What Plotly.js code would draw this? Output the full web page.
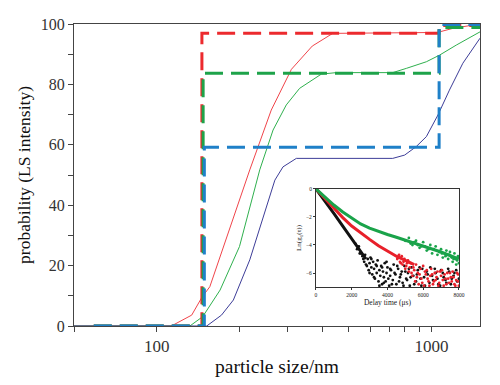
<!DOCTYPE html>
<html><head><meta charset="utf-8">
<script src="https://cdn.plot.ly/plotly-3.0.1.min.js"></script>
<style>html,body{margin:0;padding:0;background:#fff}#c{width:500px;height:385px}</style>
</head><body><div id="c"></div>
<script>
// Main chart: cumulative size distributions (particle size in nm, probability %)
const redSolidX = [50,113,134,146,156,218,261,309,368,437,1050,1200,1500];
const redSolidY = [0,0,3.6,9.5,13.0,51.7,71.5,85.0,92.7,96.9,97.2,98.6,100];
const greenSolidX = [50,132,147,170,200,237,265,296,331,397,450,722,809,957,1069,1229,1500];
const greenSolidY = [0,0,3.1,11.9,26.3,51.7,64.9,73.2,78.7,83.4,83.9,83.9,85.3,87.5,89.7,93.0,97.4];
const blueSolidX = [50,152,172,190,218,269,288,322,722,798,879,957,1055,1161,1299,1500];
const blueSolidY = [0,0,3.6,8.6,21.9,48.3,52.7,55.5,55.5,56.6,59.4,62.7,69.9,78.1,87.0,95.3];
const redDashX = [59,146,146,1065,1065,1500];
const redDashY = [0,0,96.9,96.9,99.5,99.5];
const greenDashX = [59,147.5,147.5,1065,1065,1500];
const greenDashY = [0,0,83.7,83.7,98.8,98.8];
const blueDashX = [59,149,149,1065,1065,1500];
const blueDashY = [0,0,59.2,59.2,99.8,99.8];
const xTickVals = [100,1000];
const xTickText = ['100','1000'];
const xMinorTickVals = [50,200,300,400,500,600,700,800,900];
const yTickVals = [0,20,40,60,80,100];

// Inset: Ln(g1(tau)) vs delay time (us)
const greenTrendX = [0,500,1000,1500,2000,2500,3000,3500,4000,4500,5000,5500,6000,6500,7000,7500,8000];
const greenTrendY = [0,-0.6,-1.15,-1.65,-2.1,-2.5,-2.8,-3.05,-3.25,-3.45,-3.65,-3.85,-4.05,-4.25,-4.5,-4.75,-5.0];
const redTrendX = [0,500,1000,1500,2000,2500,3000,3500,4000,4500,5000,5500];
const redTrendY = [0,-0.7,-1.4,-2.05,-2.65,-3.15,-3.6,-4.05,-4.45,-4.8,-5.1,-5.4];
const blackTrendX = [0,500,1000,1500,2000,2500,2800];
const blackTrendY = [0,-0.85,-1.75,-2.65,-3.55,-4.45,-5.0];
const blackNoiseX = [2200,2300,2400,2450,2600,2700,2750,2850,2900,2950,3000,3050,3100,3150,3200,3250,3300,3350,3400,3450,3500,3550,3600,3650,3700,3750,3800,3850,3900,3950,4000,4100,4150,4200,4300,4350,4450,4500,4600,4700,4800,4850,4950,5050,5150,5250,5350,5450,5600,5700,5850,5950,6100,6250,6400,6550,6700,6850,7000,7150,7300,7450,7600,7750,7900,
  2500,2650,2800,3000,3100,3250,3400,3550,3700,3800,3950,4050,4150,4250,4400,4550,4650,4750,4900,5000,5100,5200,5300,5500,5650,5800,5900,6050,6200,6350,6500,6650,6800,6950,7100,7250,7400,7550,7700,7850,8000];
const blackNoiseY = [-3.9,-4.3,-4.1,-4.6,-4.8,-5.2,-4.7,-5.5,-5.0,-5.8,-5.3,-4.9,-5.6,-6.1,-5.2,-5.7,-6.4,-5.4,-6.0,-5.1,-6.6,-5.8,-6.2,-5.5,-6.8,-5.9,-6.3,-5.3,-6.6,-6.0,-5.6,-6.9,-6.2,-5.8,-6.5,-5.4,-6.1,-6.8,-5.7,-6.3,-5.9,-6.7,-5.5,-6.4,-6.0,-6.9,-5.6,-6.2,-6.6,-5.8,-6.4,-5.7,-6.9,-6.1,-5.6,-6.5,-6.0,-6.8,-5.8,-6.3,-6.7,-5.9,-6.4,-6.0,-6.6,
  -4.6,-5.0,-5.4,-6.0,-5.0,-6.3,-5.5,-6.9,-5.6,-6.7,-5.2,-6.4,-5.7,-6.8,-6.0,-5.5,-6.6,-6.1,-6.9,-5.9,-6.5,-5.7,-6.3,-6.8,-6.1,-5.6,-6.9,-6.3,-5.9,-6.7,-6.2,-5.7,-6.4,-6.9,-6.0,-6.5,-5.7,-6.8,-6.2,-5.8,-6.4];
const redNoiseX = [4600,4700,4800,4850,4950,5050,5150,5200,5300,5400,5450,5550,5600,5700,5750,5850,5900,6000,6050,6150,6200,6300,6400,6450,6550,6650,6700,6800,6900,7000,7050,7150,7250,7350,7450,7550,7650,7750,7850,7950,8000,
  4550,4650,4750,4900,5000,5100,5250,5350,5500,5650,5800,5950,6100,6250,6350,6500,6600,6750,6850,6950,7100,7200,7300,7400,7500,7600,7700,7800,7900,7950];
const redNoiseY = [-4.9,-5.2,-4.8,-5.4,-5.0,-5.5,-5.1,-5.9,-5.3,-6.2,-5.6,-6.6,-5.4,-6.0,-6.8,-5.7,-6.4,-5.5,-6.9,-6.1,-5.8,-6.6,-6.2,-5.7,-6.8,-6.0,-6.5,-5.9,-6.7,-6.2,-5.8,-6.9,-6.4,-6.0,-6.7,-6.3,-5.9,-6.8,-6.5,-6.1,-6.9,
  -5.0,-4.7,-5.3,-5.2,-5.7,-5.3,-5.6,-6.0,-5.8,-6.3,-6.1,-6.7,-5.9,-6.4,-6.9,-6.1,-6.6,-6.3,-6.9,-5.9,-6.5,-6.1,-6.8,-6.4,-6.0,-6.6,-6.3,-6.9,-6.0,-6.6];
const greenNoiseX = [5200,5400,5600,5800,6000,6200,6400,6500,6700,6800,7000,7100,7200,7300,7400,7500,7600,7650,7750,7850,7950,8000,
  5000,5300,5500,5700,5900,6100,6300,6600,6900,7050,7250,7350,7450,7550,7700,7800,7900,8000];
const greenNoiseY = [-3.5,-4.0,-3.7,-4.2,-3.8,-4.4,-4.0,-4.6,-4.1,-4.7,-4.3,-4.9,-4.6,-4.4,-5.0,-4.5,-4.9,-5.2,-4.6,-5.4,-4.8,-5.3,
  -3.7,-3.9,-3.8,-4.0,-4.1,-4.1,-4.3,-4.3,-4.5,-4.6,-4.8,-4.7,-4.7,-4.8,-5.0,-5.0,-5.1,-4.9];
const insetXTicks = [0,2000,4000,6000,8000];
const insetYTicks = [0,-2,-4,-6];

const C = {red:'#ec2a2e', green:'#1ea34a', blue:'#1f80c8', navy:'#3d3d98', redS:'#f0444a', greenS:'#2fb04e'};
const dashPat = '18px,8px';
const serif = '"Liberation Serif", serif';
const xRange = [Math.log10(50), Math.log10(1500)];

const traces = [
  {x:[], y:[], xaxis:'x3', yaxis:'y', mode:'lines', hoverinfo:'skip'},
  {x:redSolidX, y:redSolidY, mode:'lines', line:{color:C.redS, width:1}},
  {x:greenSolidX, y:greenSolidY, mode:'lines', line:{color:C.greenS, width:1}},
  {x:blueSolidX, y:blueSolidY, mode:'lines', line:{color:C.navy, width:1}},
  {x:redDashX, y:redDashY, mode:'lines', line:{color:C.red, width:3, dash:dashPat}},
  {x:greenDashX, y:greenDashY, mode:'lines', line:{color:C.green, width:3, dash:dashPat}},
  {x:blueDashX, y:blueDashY, mode:'lines', line:{color:C.blue, width:3, dash:dashPat}},
  {x:blackNoiseX, y:blackNoiseY, xaxis:'x2', yaxis:'y2', mode:'markers', marker:{color:'#111', size:2.8}},
  {x:redNoiseX, y:redNoiseY, xaxis:'x2', yaxis:'y2', mode:'markers', marker:{color:'#e8202a', size:2.8}},
  {x:greenNoiseX, y:greenNoiseY, xaxis:'x2', yaxis:'y2', mode:'markers', marker:{color:'#1aa34a', size:2.8}},
  {x:blackTrendX, y:blackTrendY, xaxis:'x2', yaxis:'y2', mode:'lines', line:{color:'#111', width:3}},
  {x:redTrendX, y:redTrendY, xaxis:'x2', yaxis:'y2', mode:'lines', line:{color:'#e8202a', width:3}},
  {x:greenTrendX, y:greenTrendY, xaxis:'x2', yaxis:'y2', mode:'lines', line:{color:'#1aa34a', width:3}}
];

const layout = {
  width:500, height:385, showlegend:false,
  paper_bgcolor:'#fff', plot_bgcolor:'#fff',
  margin:{l:74, r:20, t:24, b:59},
  font:{family:serif, color:'#333'},
  xaxis:{type:'log', range:xRange, tickvals:xTickVals, ticktext:xTickText,
    ticks:'outside', ticklen:5, tickcolor:'#444', showgrid:false, zeroline:false,
    showline:true, mirror:true, linecolor:'#444', linewidth:1,
    tickfont:{size:17, family:serif, color:'#333'},
    title:{text:'particle size/nm', font:{size:19.5, family:serif, color:'#111'}, standoff:3}},
  xaxis3:{type:'log', range:xRange, overlaying:'x', anchor:'y', side:'bottom',
    tickvals:xMinorTickVals, showticklabels:false, ticks:'outside', ticklen:5, tickcolor:'#444',
    showgrid:false, zeroline:false, showline:false},
  yaxis:{range:[0,100], tickvals:yTickVals, ticks:'outside', ticklen:5, tickcolor:'#444',
    minor:{dtick:10, ticks:'outside', ticklen:5, tickcolor:'#444', showgrid:false},
    showgrid:false, zeroline:false, showline:true, mirror:true, linecolor:'#444', linewidth:1,
    tickfont:{size:16, family:serif, color:'#333'},
    title:{text:'probability (LS intensity)', font:{size:17.5, family:serif, color:'#111'}, standoff:5}},
  xaxis2:{domain:[0.596,0.948], anchor:'y2', range:[0,8000], tickvals:insetXTicks,
    ticks:'outside', ticklen:2, tickcolor:'#333', showgrid:false, zeroline:false,
    showline:true, mirror:true, linecolor:'#333', linewidth:1,
    tickfont:{size:5.5, family:serif, color:'#222'},
    title:{text:'Delay time (μs)', font:{size:7.5, family:serif, color:'#222'}, standoff:2}},
  yaxis2:{domain:[0.129,0.454], anchor:'x2', range:[-7,0], tickvals:insetYTicks,
    ticks:'outside', ticklen:2, tickcolor:'#333', showgrid:false, zeroline:false,
    showline:true, mirror:true, linecolor:'#333', linewidth:1,
    tickfont:{size:5.5, family:serif, color:'#222'},
    title:{text:'Ln(g<sub>1</sub>(τ))', font:{size:7, family:serif, color:'#222'}, standoff:3}}
};

Plotly.newPlot('c', traces, layout, {staticPlot:true, displayModeBar:false});
</script>
</body></html>
